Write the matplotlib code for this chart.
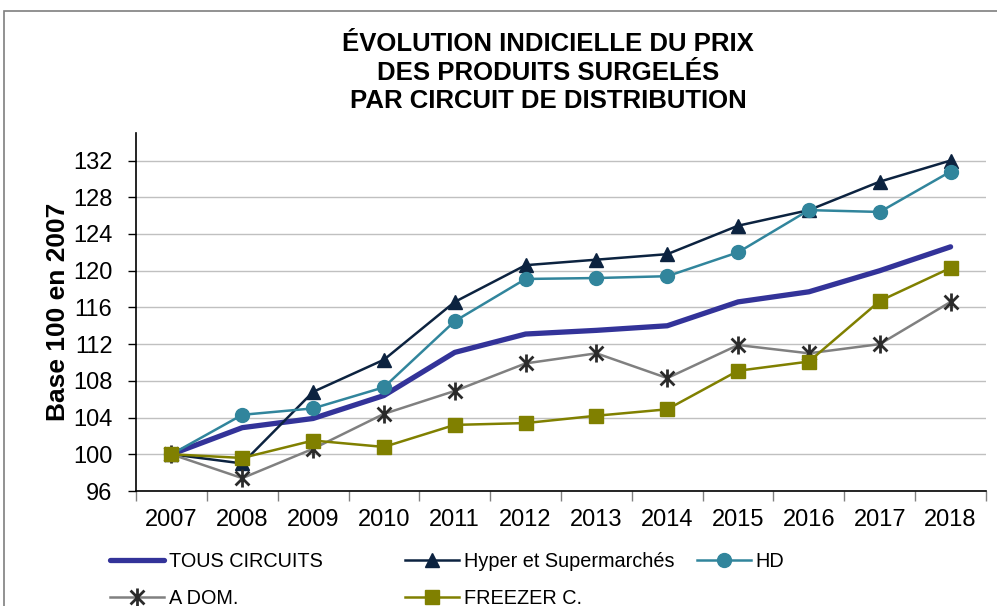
import matplotlib
matplotlib.use("Agg")
import matplotlib.pyplot as plt
from matplotlib.path import Path
from matplotlib.patches import Rectangle

plt.rcParams["font.family"] = ["Liberation Sans", "DejaVu Sans"]

years = ["2007", "2008", "2009", "2010", "2011", "2012",
         "2013", "2014", "2015", "2016", "2017", "2018"]

tous_circuits = [100, 102.9, 103.9, 106.4, 111.1, 113.1, 113.5, 114.0, 116.6, 117.7, 120.0, 122.6]
hyper_super = [100, 99.0, 106.8, 110.3, 116.6, 120.6, 121.2, 121.8, 124.9, 126.6, 129.7, 132.0]
hd = [100, 104.3, 105.0, 107.3, 114.5, 119.1, 119.2, 119.4, 122.0, 126.6, 126.4, 130.8]
a_dom = [100, 97.4, 100.6, 104.4, 106.9, 109.9, 111.0, 108.3, 111.9, 111.0, 112.0, 116.6]
freezer = [100, 99.6, 101.5, 100.8, 103.2, 103.4, 104.2, 104.9, 109.1, 110.1, 116.7, 120.3]

title = "ÉVOLUTION INDICIELLE DU PRIX\nDES PRODUITS SURGELÉS\nPAR CIRCUIT DE DISTRIBUTION"

# asterisk marker: an X crossed by a vertical stroke
star = Path([(-1, -1), (1, 1), (-1, 1), (1, -1), (0, -1.3), (0, 1.3)],
            [Path.MOVETO, Path.LINETO] * 3)

fig = plt.figure(figsize=(9.97, 6.06), dpi=100)
ax = fig.add_axes([136 / 997, 1 - 491 / 606, 850 / 997, 358 / 606])

x = list(range(len(years)))
h_tous, = ax.plot(x, tous_circuits, color="#333399", lw=3.8, solid_capstyle="round",
                  label="TOUS CIRCUITS")
h_hyper, = ax.plot(x, hyper_super, color="#0c2340", lw=1.8, marker="^", ms=10,
                   label="Hyper et Supermarchés")
h_hd, = ax.plot(x, hd, color="#31859c", lw=1.8, marker="o", ms=10, label="HD")
h_dom, = ax.plot(x, a_dom, color="#808080", lw=1.8, marker=star, ms=13,
                 mfc="none", mec="#2b2b2b", mew=2.0, label="A DOM.")
h_frz, = ax.plot(x, freezer, color="#808000", lw=1.8, marker="s", ms=10,
                 label="FREEZER C.")

ax.set_xlim(-0.5, len(years) - 0.5)
ax.set_ylim(96, 135)
ax.set_yticks(range(96, 133, 4))
ax.tick_params(axis="y", labelsize=17, length=6, width=1, direction="out", pad=11)
ax.set_xticks(x)
ax.set_xticklabels(years)
ax.set_xticks([i - 0.5 for i in range(len(years) + 1)], minor=True)
ax.tick_params(axis="x", which="major", length=0, labelsize=17, pad=13)
ax.tick_params(axis="x", which="minor", length=7, width=1, color="#808080")
ax.grid(axis="y", color="#c0c0c0", lw=1)
ax.set_axisbelow(True)
for side in ("top", "right"):
    ax.spines[side].set_visible(False)
ax.spines["left"].set_linewidth(1.2)
ax.spines["bottom"].set_linewidth(1.2)

ax.set_ylabel("Base 100 en 2007", fontsize=19, fontweight="bold", labelpad=2)

fig.text(548 / 997, 1 - 32 / 606, title, ha="center", va="top", fontsize=18.5,
         fontweight="bold", linespacing=1.25)

# outer frame of the chart object
fig.add_artist(Rectangle((4 / 997, -0.2), 1.2, 1.2 - 11 / 606,
                         transform=fig.transFigure, fill=False,
                         edgecolor="#7f7f7f", lw=1.2, clip_on=False))

legend_kw = dict(loc="upper left", frameon=False, fontsize=14.3, borderpad=0,
                 borderaxespad=0, handlelength=2.7, handletextpad=0.25,
                 labelspacing=0.9)
columns = [([h_tous, h_dom], 110), ([h_hyper, h_frz], 405), ([h_hd], 697)]
for handles, left in columns:
    fig.legend(handles=handles, bbox_to_anchor=(left / 997, 1 - 552 / 606),
               **legend_kw)

fig.savefig("out.png", dpi=100)
